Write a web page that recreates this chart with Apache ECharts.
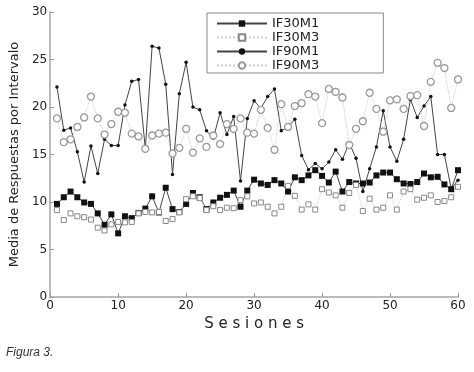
<!DOCTYPE html>
<html>
<head>
<meta charset="utf-8">
<script src="https://cdn.jsdelivr.net/npm/echarts@6/dist/echarts.min.js"></script>
<style>
html,body{margin:0;padding:0;background:#fff}
#chart{width:474px;height:372px}
</style>
</head>
<body>
<div id="chart"></div>
<script>
// sesiones 1..60
var sessions = [1,2,3,4,5,6,7,8,9,10,11,12,13,14,15,16,17,18,19,20,
  21,22,23,24,25,26,27,28,29,30,31,32,33,34,35,36,37,38,39,40,
  41,42,43,44,45,46,47,48,49,50,51,52,53,54,55,56,57,58,59,60];

var if30m1 = [9.8,10.5,11.1,10.5,9.95,9.8,8.8,7.6,8.7,6.7,
  8.5,8.3,8.85,9.3,10.6,8.9,11.5,9.25,8.95,9.8,
  10.95,10.5,9.25,9.95,10.45,10.75,11.2,9.5,11.2,12.35,
  11.95,11.8,12.3,11.95,11.1,12.6,12.3,12.8,13.35,12.75,
  12.05,13.2,11.1,12.1,11.95,11.95,12.05,12.8,13.1,13.1,
  12.4,11.95,11.9,12.1,13.0,12.6,12.65,11.85,11.35,13.35];

var if30m3 = [9.15,8.1,8.8,8.5,8.4,8.15,7.3,7.0,7.65,7.9,
  7.85,7.9,8.8,8.95,8.9,8.95,8.0,8.2,8.9,10.3,
  10.6,10.4,9.15,9.55,9.15,9.4,9.35,10.2,10.6,9.85,
  9.95,9.5,8.8,9.5,11.7,10.65,9.2,9.75,9.2,11.35,
  11.0,10.7,9.4,10.95,11.8,9.05,10.35,9.2,9.4,10.7,
  9.2,11.1,11.35,10.25,10.45,10.7,10.0,10.1,10.5,11.6];

var if90m1 = [22.1,17.55,17.8,15.3,12.1,15.9,13.0,16.6,15.95,15.95,
  20.2,22.7,22.9,15.6,26.4,26.2,22.4,12.9,21.4,24.7,
  20.0,19.7,17.5,16.7,19.4,17.1,19.0,12.2,18.8,20.65,
  19.85,21.1,21.9,17.5,17.9,18.7,14.9,13.4,14.05,13.5,
  14.2,15.5,14.5,16.2,14.6,11.1,13.5,15.8,19.6,15.8,
  14.3,16.6,20.8,18.9,20.1,21.1,15.0,15.0,11.4,12.3];

var if90m3 = [18.8,16.3,16.6,17.9,18.9,21.1,18.8,17.1,18.2,19.5,
  19.4,17.2,16.9,15.6,17.0,17.2,17.3,15.1,15.7,17.7,
  15.2,16.7,15.8,17.0,16.1,18.2,17.7,18.8,17.3,17.2,
  19.7,17.8,15.5,20.3,17.9,20.1,20.4,21.35,21.1,18.3,
  21.9,21.6,21.0,16.0,17.7,18.5,21.5,19.8,17.4,20.7,
  20.8,19.8,21.15,21.25,18.0,22.65,24.65,24.1,19.9,22.9];

var xTicks = [0, 60, 10];
var yTicks = [0, 30, 5];

function pairs(vals) {
  return sessions.map(function (s, i) { return [s, vals[i]]; });
}

var chart = echarts.init(document.getElementById('chart'));
var font = 'DejaVu Sans';

chart.setOption({
  backgroundColor: '#fff',
  animation: false,
  textStyle: {fontFamily: font},
  grid: {left: 43, right: 16, top: 12, bottom: 75},
  legend: {
    orient: 'vertical',
    left: 207,
    top: 13,
    padding: [4, 64, 1, 9],
    borderColor: '#888',
    borderWidth: 1,
    itemWidth: 50,
    itemHeight: 8,
    itemGap: 1,
    textStyle: {fontFamily: font, fontSize: 13, lineHeight: 13, color: '#222'},
    data: ['IF30M1', 'IF30M3', 'IF90M1', 'IF90M3']
  },
  xAxis: {
    type: 'value',
    min: xTicks[0], max: xTicks[1], interval: xTicks[2],
    name: 'S e s i o n e s',
    nameLocation: 'middle',
    nameGap: 16,
    nameTextStyle: {fontFamily: font, fontSize: 15, color: '#222'},
    axisLine: {lineStyle: {color: '#bbb', width: 2}},
    axisTick: {inside: true, length: 4, lineStyle: {color: '#999'}},
    axisLabel: {fontSize: 12, color: '#222', margin: 3},
    splitLine: {show: false}
  },
  yAxis: {
    type: 'value',
    min: yTicks[0], max: yTicks[1], interval: yTicks[2],
    name: 'Media de Respuestas por Intervalo',
    nameLocation: 'middle',
    nameGap: 16,
    nameTextStyle: {fontFamily: font, fontSize: 13, color: '#222'},
    axisLine: {show: true, lineStyle: {color: '#bbb', width: 2}},
    axisTick: {show: true, inside: true, length: 4, lineStyle: {color: '#999'}},
    axisLabel: {fontSize: 12, color: '#222', margin: 3},
    splitLine: {show: false}
  },
  graphic: [{
    type: 'text',
    left: 6,
    top: 347,
    style: {text: 'Figura 3.', font: 'italic 12px "Liberation Sans"', fill: '#333'}
  }],
  series: [
    {
      name: 'IF30M1', type: 'line', data: pairs(if30m1),
      symbol: 'rect', symbolSize: 6,
      itemStyle: {color: '#111'},
      lineStyle: {color: '#444', width: 1}
    },
    {
      name: 'IF30M3', type: 'line', data: pairs(if30m3),
      symbol: 'rect', symbolSize: 5,
      itemStyle: {color: '#fff', borderColor: '#888', borderWidth: 1},
      lineStyle: {color: '#ccc', width: 1, type: 'dotted'}
    },
    {
      name: 'IF90M1', type: 'line', data: pairs(if90m1),
      symbol: 'circle', symbolSize: 3.5,
      itemStyle: {color: '#111'},
      lineStyle: {color: '#444', width: 1}
    },
    {
      name: 'IF90M3', type: 'line', data: pairs(if90m3),
      symbol: 'circle', symbolSize: 7,
      itemStyle: {color: '#fff', borderColor: '#999', borderWidth: 1.3},
      lineStyle: {color: '#ccc', width: 1, type: 'dotted'}
    }
  ]
});
</script>
</body>
</html>
